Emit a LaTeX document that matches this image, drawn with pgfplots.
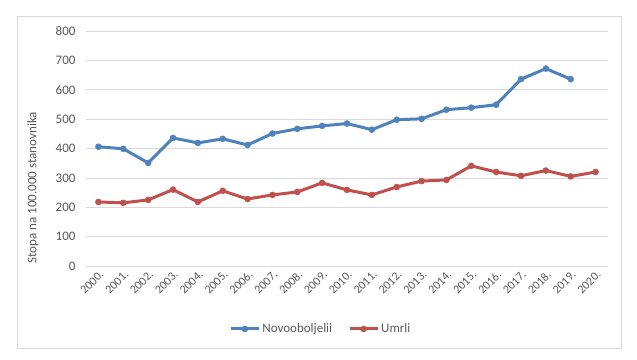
\documentclass[border=0pt]{standalone}
\usepackage{pgfplots}
\pgfplotsset{compat=1.18}
\usepackage{fontspec}
\setmainfont{Carlito}
\definecolor{blueS}{HTML}{4F81BD}
\definecolor{redS}{HTML}{C0504D}
\definecolor{gridc}{HTML}{D9D9D9}
\definecolor{txt}{HTML}{595959}
\begin{document}
\fontsize{13pt}{15pt}\selectfont
\begin{tikzpicture}[x=1pt,y=1pt]
\path[use as bounding box] (0,0) rectangle (637,359);
\draw[gridc, line width=0.75pt] (17,11) rectangle (621,343);
\begin{axis}[
  at={(86pt,93pt)}, anchor=south west,
  scale only axis, width=522pt, height=235pt,
  xmin=-0.5, xmax=20.5, ymin=0, ymax=800,
  ytick={0,100,...,800},
  xtick={0,...,20},
  xticklabels={2000.,2001.,2002.,2003.,2004.,2005.,2006.,2007.,2008.,2009.,2010.,2011.,2012.,2013.,2014.,2015.,2016.,2017.,2018.,2019.,2020.},
  axis line style={draw=none},
  major tick length=0pt,
  ymajorgrids, grid style={gridc, line width=0.75pt},
  tick label style={text=txt},
  yticklabel style={anchor=east, xshift=-6pt, font=\fontsize{13pt}{15pt}\selectfont},
  xticklabel style={rotate=45, anchor=east, xshift=2pt, yshift=-7pt, font=\fontsize{12pt}{14pt}\selectfont},
  /pgf/number format/assume math mode=true,
  ylabel={Stopa na 100.000 stanovnika},
  ylabel style={at={(axis description cs:-0.1015,0.333)}, anchor=center, rotate=0, text=txt, font=\fontsize{13pt}{15pt}\selectfont},
  legend style={at={(axis description cs:0.45,-0.268)}, anchor=center, draw=none, fill=none,
    legend columns=2, font=\fontsize{13pt}{15pt}\selectfont, text=txt,
    /tikz/every even column/.append style={column sep=14pt}},
  legend image code/.code={\draw[#1, mark repeat=2, mark phase=2] plot coordinates {(0pt,0pt) (14pt,0pt) (28pt,0pt)};},
]
\addplot[blueS, line width=3pt, mark=*, mark size=3pt, mark options={fill=blueS, draw=blueS, line width=0.5pt}] coordinates {
(0,406) (1,399) (2,351) (3,436) (4,419) (5,433) (6,412) (7,451) (8,467) (9,477) (10,485)
(11,464) (12,498) (13,501) (14,532) (15,539) (16,549) (17,636) (18,672) (19,636)};
\addlegendentry{Novooboljelii}
\addplot[redS, line width=3pt, mark=*, mark size=3pt, mark options={fill=redS, draw=redS, line width=0.5pt}] coordinates {
(0,218) (1,215) (2,225) (3,260) (4,218) (5,256) (6,228) (7,242) (8,252) (9,283) (10,259)
(11,242) (12,269) (13,289) (14,293) (15,341) (16,320) (17,307) (18,325) (19,305) (20,320)};
\addlegendentry{Umrli}
\end{axis}
\end{tikzpicture}
\end{document}
